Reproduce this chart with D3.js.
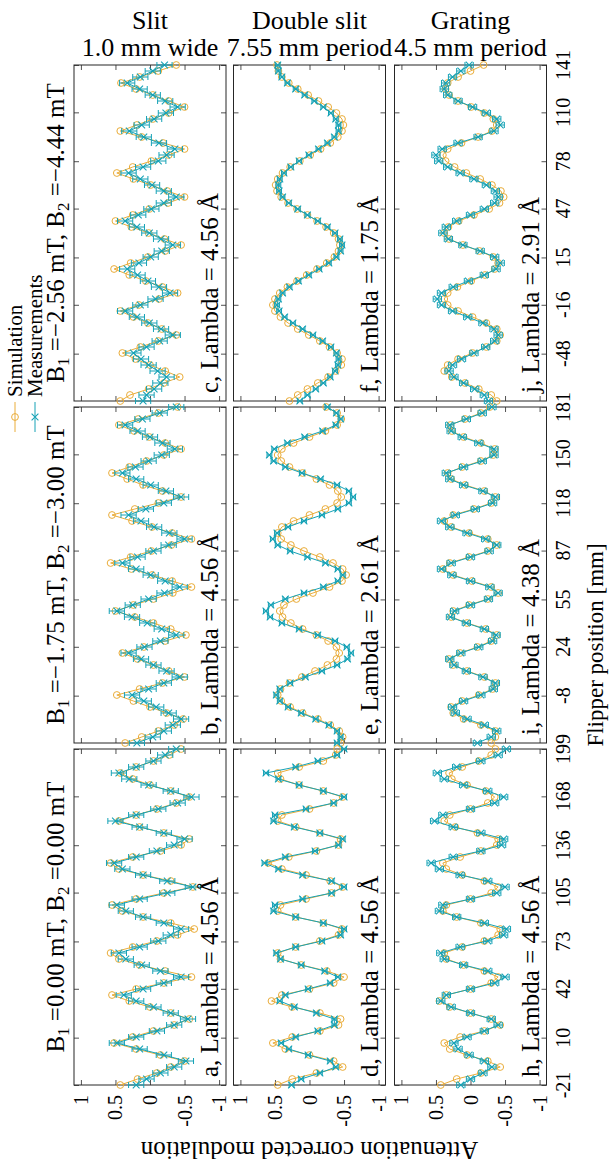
<!DOCTYPE html>
<html><head><meta charset="utf-8">
<script src="https://cdn.jsdelivr.net/npm/d3@7"></script>
<style>
body{margin:0;background:#fff}
svg{display:block}
svg text{font-family:"Liberation Serif","DejaVu Serif",serif;fill:#000}
</style>
</head><body>
<svg id="c" width="609" height="1163" font-family="Liberation Serif, DejaVu Serif, serif"></svg>
<script>
// ---------------- data ----------------
const colTitles = ["Slit", "Double slit", "Grating"];
const colSubtitles = ["1.0 mm wide", "7.55 mm period", "4.5 mm period"];
const rowB1 = ["\u22122.56", "\u22121.75", "0.00"];
const rowB2 = ["\u22124.44", "\u22123.00", "0.00"];
// flipper-position range of each row (top, middle, bottom) and its tick labels
const rowStart = [-79, -39, -21];
const rowEnd = [141, 181, 199];
const rowTicks = [
  [-48, -16, 15, 47, 78, 110, 141],
  [-8, 24, 55, 87, 118, 150, 181],
  [-21, 10, 42, 73, 105, 136, 168, 199]
];
const modTicks = [1, 0.5, 0, -0.5, -1];
const panelLetters = [["c", "f", "j"], ["b", "e", "i"], ["a", "d", "h"]];
const panelLambdas = [["4.56", "1.75", "2.91"], ["4.56", "2.61", "4.38"], ["4.56", "4.56", "4.56"]];
const colErr = [0.11, 0.035, 0.06];

// Slit, B1=-2.56
const sim_c = [.43,.29,.02,-.2,-.43,-.22,.0,.21,.40,.14,-.12,-.38,-.17,.03,.24,.43,.16,-.13,-.40,-.18,.06,.3,.52,.28,.03,-.22,-.45,-.21,.02,.27,.50,.25,.01,-.26,-.50,-.25,-.01,.24,.48,.25,-.02,-.27,-.50,-.19,.12,.43,.19,-.04,-.27,-.50,-.27,-.04,.2,.42,.15,-.12,-.38];
const meas_c = [.10,.05,-.06,-.15,-.24,-.11,.02,.13,.24,.05,-.14,-.33,-.16,.01,.19,.36,.14,-.08,-.29,-.13,.03,.18,.33,.16,-.01,-.17,-.33,-.16,.01,.19,.36,.17,-.02,-.2,-.38,-.2,-.03,.14,.31,.1,-.12,-.24,-.36,-.13,.09,.30,.12,-.06,-.23,-.40,-.22,-.04,.15,.33,.14,-.04,-.21];
// Slit, B1=-1.75
const sim_b = [.36,.12,-.12,-.35,-.48,-.24,.0,.24,.48,.15,-.18,-.50,-.27,-.05,.18,.40,.09,-.22,-.52,-.3,-.05,.22,.50,.24,-.05,-.33,-.60,-.32,-.03,.27,.57,.28,-.02,-.31,-.60,-.32,-.03,.26,.55,.22,-.12,-.45,-.18,.1,.33,.55,.3,.05,-.2,-.45,-.22,.01,.23,.45,.17,-.12,-.40];
const meas_b = [.19,-.04,-.2,-.33,-.45,-.27,-.09,.09,.26,.02,-.2,-.43,-.24,-.05,.13,.31,.08,-.15,-.38,-.17,.04,.26,.48,.25,.02,-.21,-.43,-.22,-.01,.2,.40,.18,-.05,-.27,-.50,-.28,-.06,.13,.31,.06,-.2,-.45,-.23,-.01,.2,.40,.21,.02,-.17,-.36,-.18,.0,.18,.36,.11,-.14,-.38];
// Slit, B1=0
const sim_a = [.43,.18,-.1,-.3,-.50,-.15,.2,.52,.25,-.05,-.35,-.57,-.3,.0,.3,.55,.2,-.2,-.60,-.22,.15,.45,.57,.25,-.1,-.4,-.64,-.3,.1,.4,.55,.2,-.2,-.62,-.3,.1,.45,.57,.25,-.15,-.45,-.57,-.2,.15,.45,.2,-.1,-.38,-.57,-.3,.0,.25,.43,.2,-.05,-.28,-.45];
const meas_a = [.20,.05,-.15,-.35,-.52,-.2,.15,.48,.2,-.1,-.35,-.55,-.3,-.05,.2,.38,.1,-.2,-.45,-.15,.12,.35,.45,.15,-.12,-.3,-.45,-.2,.1,.35,.48,.15,-.25,-.62,-.25,.1,.4,.52,.2,-.1,-.35,-.5,-.2,.15,.5,.2,-.12,-.4,-.60,-.3,.02,.3,.45,.2,-.05,-.22,-.38];
// Double slit, B1=-2.56
const sim_f = [.29,.17,.03,-.12,-.27,-.38,-.46,-.47,-.40,-.29,-.15,.01,.17,.31,.42,.50,.53,.50,.43,.32,.18,.04,-.11,-.25,-.36,-.42,-.44,-.42,-.35,-.24,-.11,.03,.18,.31,.41,.47,.49,.46,.39,.28,.14,-.01,-.16,-.30,-.41,-.47,-.49,-.47,-.39,-.27,-.13,.02,.17,.30,.40,.45,.47];
const meas_f = [.14,.03,-.09,-.2,-.3,-.37,-.41,-.42,-.39,-.31,-.19,-.05,.1,.24,.36,.44,.47,.45,.39,.29,.16,.01,-.14,-.28,-.39,-.45,-.47,-.44,-.37,-.26,-.12,.03,.17,.3,.39,.44,.45,.43,.37,.27,.15,.01,-.13,-.26,-.36,-.42,-.42,-.38,-.31,-.2,-.07,.07,.2,.32,.4,.45,.46];
// Double slit, B1=-1.75
const sim_e = [-.45,-.48,-.43,-.30,-.12,.10,.28,.41,.46,.42,.29,.11,-.08,-.26,-.39,-.43,-.39,-.27,-.10,.10,.27,.39,.43,.37,.19,-.05,-.29,-.47,-.53,-.48,-.34,-.15,.08,.27,.41,.46,.40,.23,.0,-.23,-.40,-.46,-.41,-.29,-.10,.10,.29,.41,.46,.40,.23,.0,-.23,-.40,-.46,-.40,-.24];
const meas_e = [-.40,-.45,-.40,-.28,-.09,.12,.31,.43,.48,.43,.28,.06,-.18,-.40,-.55,-.60,-.54,-.37,-.12,.15,.40,.57,.63,.56,.35,.08,-.20,-.41,-.48,-.41,-.23,.03,.28,.46,.53,.47,.31,.08,-.18,-.41,-.57,-.63,-.57,-.40,-.16,.11,.35,.52,.58,.51,.32,.07,-.19,-.38,-.45,-.39,-.26];
// Double slit, B1=0
const sim_d = [.46,.25,-.1,-.48,-.35,.0,.35,.53,.25,-.15,-.42,-.45,-.15,.25,.55,.4,.0,-.35,-.50,-.25,.12,.42,.46,.2,-.15,-.42,-.47,-.2,.2,.46,.42,.05,-.32,-.48,-.3,.05,.4,.60,.3,-.1,-.42,-.45,-.15,.2,.46,.4,.0,-.35,-.48,-.2,.15,.42,.46,.15,-.2,-.38,-.40];
const meas_d = [.26,.12,-.15,-.38,-.3,.02,.3,.41,.2,-.12,-.36,-.36,-.1,.22,.43,.35,.02,-.3,-.41,-.22,.12,.42,.48,.2,-.18,-.45,-.5,-.2,.2,.52,.5,.1,-.32,-.50,-.32,.1,.45,.65,.35,-.08,-.42,-.48,-.15,.22,.52,.5,.05,-.35,-.50,-.2,.15,.45,.63,.2,-.12,-.4,-.50];
// Grating, B1=-2.56
const sim_j = [-.38,-.30,-.12,.08,.27,.38,.33,.18,-.03,-.23,-.38,-.43,-.38,-.23,-.03,.18,.33,.38,.33,.19,-.01,-.21,-.35,-.40,-.33,-.13,.11,.31,.38,.32,.17,-.05,-.27,-.42,-.48,-.44,-.31,-.14,.06,.23,.36,.40,.33,.13,-.11,-.31,-.38,-.33,-.2,-.01,.18,.31,.36,.33,.18,.0,-.19];
const meas_j = [-.26,-.2,-.06,.1,.24,.31,.26,.13,-.05,-.22,-.35,-.40,-.34,-.18,.04,.26,.42,.48,.42,.25,.03,-.2,-.37,-.43,-.35,-.14,.11,.32,.40,.35,.2,.0,-.2,-.35,-.40,-.36,-.23,-.05,.15,.33,.46,.50,.41,.18,-.11,-.34,-.43,-.38,-.23,-.03,.18,.33,.38,.36,.26,.14,.02];
// Grating, B1=-1.75
const sim_i = [-.30,-.36,-.36,-.15,.1,.25,.28,.12,-.12,-.32,-.36,-.2,.05,.25,.31,.15,-.1,-.3,-.38,-.22,.05,.28,.25,.02,-.25,-.40,-.3,-.02,.25,.40,.3,.02,-.25,-.38,-.25,.02,.28,.38,.25,-.05,-.3,-.36,-.2,.08,.28,.33,.12,-.15,-.33,-.35,-.15,.1,.27,.29,.08,-.15,-.28];
const meas_i = [-.1,-.3,-.38,-.2,.05,.22,.26,.1,-.15,-.33,-.36,-.18,.06,.24,.3,.14,-.12,-.32,-.37,-.2,.06,.29,.23,.0,-.26,-.40,-.28,.0,.27,.42,.28,.0,-.27,-.38,-.22,.05,.3,.42,.22,-.07,-.32,-.36,-.18,.1,.3,.35,.1,-.17,-.34,-.34,-.12,.12,.28,.3,.06,-.17,-.31];
// Grating, B1=0
const sim_h = [.43,.2,-.15,-.43,-.25,.05,.3,.38,.15,-.2,-.43,-.3,.0,.3,.45,.35,.0,-.3,-.40,-.2,.1,.35,.38,.12,-.2,-.4,-.43,-.15,.2,.40,.35,.0,-.3,-.40,-.2,.12,.35,.40,.15,-.15,-.38,-.40,-.1,.22,.38,.3,.0,-.25,-.35,-.22,.05,.27,.31,.12,-.12,-.3,-.36];
const meas_h = [.14,.0,-.18,-.31,-.2,.02,.18,.24,.05,-.2,-.40,-.3,.0,.28,.43,.35,.0,-.35,-.50,-.25,.1,.38,.43,.15,-.25,-.48,-.52,-.2,.2,.45,.4,.0,-.38,-.50,-.25,.15,.45,.57,.25,-.15,-.45,-.48,-.15,.25,.52,.4,.0,-.35,-.48,-.25,.1,.38,.48,.2,-.15,-.4,-.52];

const simData = [[sim_c, sim_f, sim_j], [sim_b, sim_e, sim_i], [sim_a, sim_d, sim_h]];
const measData = [[meas_c, meas_f, meas_j], [meas_b, meas_e, meas_i], [meas_a, meas_d, meas_h]];

// ---------------- layout / style ----------------
const FONT = "Liberation Serif, DejaVu Serif, serif";
const colLeft = [74, 233.5, 394.5], colW = 152;
const rowTop = [65, 407, 749], rowH = 336;
const ORANGE = "#EAAD3A", TEAL = "#16A2B6", AXIS = "#262626";
const svg = d3.select("#c");

function txt(parent) {
  return parent.append("text").attr("font-family", FONT).attr("fill", "#000");
}
function xMarker(sel, size) {
  sel.attr("d", `M${-size},${-size}L${size},${size}M${-size},${size}L${size},${-size}`);
}

for (let r = 0; r < 3; r++) {
  for (let c = 0; c < 3; c++) {
    const x0 = colLeft[c], x1 = x0 + colW, y0 = rowTop[r], y1 = y0 + rowH;
    const xs = d3.scaleLinear().domain([1.1, -1.1]).range([x0, x1]);
    const ys = d3.scaleLinear().domain([rowStart[r], rowEnd[r]]).range([y1, y0]);
    const sim = simData[r][c], meas = measData[r][c];
    const n = sim.length;
    const pos = i => rowStart[r] + i * (rowEnd[r] - rowStart[r]) / (n - 1);
    const simPts = sim.map((v, i) => ({f: pos(i), v}));
    const measPts = meas.map((v, i) => ({f: pos(i), v}));
    const g = svg.append("g");

    const axStyle = a => { a.select(".domain").remove(); a.attr("color", AXIS); a.selectAll("line").attr("stroke-width", 0.8); };
    g.append("g").attr("transform", `translate(0,${y1})`)
      .call(d3.axisBottom(xs).tickValues(modTicks).tickSize(-5).tickFormat("")).call(axStyle);
    g.append("g").attr("transform", `translate(0,${y0})`)
      .call(d3.axisTop(xs).tickValues(modTicks).tickSize(-5).tickFormat("")).call(axStyle);
    g.append("g").attr("transform", `translate(${x0},0)`)
      .call(d3.axisLeft(ys).tickValues(rowTicks[r]).tickSize(-5).tickFormat("")).call(axStyle);
    g.append("g").attr("transform", `translate(${x1},0)`)
      .call(d3.axisRight(ys).tickValues(rowTicks[r]).tickSize(-5).tickFormat("")).call(axStyle);

    g.append("rect").attr("x", x0).attr("y", y0).attr("width", colW).attr("height", rowH)
      .attr("fill", "none").attr("stroke", AXIS).attr("stroke-width", 1);

    const line = d3.line().x(d => xs(d.v)).y(d => ys(d.f));
    g.append("path").datum(simPts).attr("d", line).attr("fill", "none")
      .attr("stroke", ORANGE).attr("stroke-width", 1);
    g.selectAll(".sm").data(simPts).join("circle")
      .attr("cx", d => xs(d.v)).attr("cy", d => ys(d.f)).attr("r", 3.4)
      .attr("fill", "none").attr("stroke", ORANGE).attr("stroke-width", 1);

    const err = colErr[c];
    const eb = g.append("g").attr("stroke", TEAL).attr("stroke-width", 1);
    measPts.forEach(d => {
      const yy = ys(d.f), xa = xs(d.v + err), xb = xs(d.v - err);
      eb.append("line").attr("x1", xa).attr("x2", xb).attr("y1", yy).attr("y2", yy);
      eb.append("line").attr("x1", xa).attr("x2", xa).attr("y1", yy - 3).attr("y2", yy + 3);
      eb.append("line").attr("x1", xb).attr("x2", xb).attr("y1", yy - 3).attr("y2", yy + 3);
    });
    g.append("path").datum(measPts).attr("d", line).attr("fill", "none")
      .attr("stroke", TEAL).attr("stroke-width", 1);
    g.selectAll(".mm").data(measPts).join("path")
      .attr("transform", d => `translate(${xs(d.v)},${ys(d.f)})`)
      .call(xMarker, 3.4).attr("fill", "none").attr("stroke", TEAL).attr("stroke-width", 1.1);

    txt(g).attr("transform", `translate(${x1 - 8},${y1 - 8}) rotate(-90)`)
      .attr("font-size", 25)
      .text(`${panelLetters[r][c]}, Lambda = ${panelLambdas[r][c]} \u00C5`);

    if (r === 2) {
      modTicks.forEach(t => {
        txt(svg).attr("transform", `translate(${xs(t)},${y1 + 10}) rotate(-90)`)
          .attr("text-anchor", "end").attr("dominant-baseline", "central")
          .attr("font-size", 20).text(String(t));
      });
    }
    if (c === 2) {
      rowTicks[r].forEach(t => {
        txt(svg).attr("transform", `translate(${x1 + 9},${ys(t)}) rotate(-90)`)
          .attr("text-anchor", "middle").attr("dominant-baseline", "hanging")
          .attr("font-size", 20).text(String(t));
      });
    }
  }
}

// column titles (top)
colTitles.forEach((t, c) => {
  const cx = colLeft[c] + colW / 2;
  txt(svg).attr("x", cx).attr("y", 29).attr("text-anchor", "middle").attr("font-size", 26).text(t);
  txt(svg).attr("x", cx).attr("y", 56).attr("text-anchor", "middle").attr("font-size", 26).text(colSubtitles[c]);
});

// row (B field) labels on the left
rowB1.forEach((b1, r) => {
  const cy = rowTop[r] + rowH / 2;
  const t = txt(svg).attr("transform", `translate(64,${cy}) rotate(-90)`)
    .attr("text-anchor", "middle").attr("font-size", 25);
  t.append("tspan").text("B");
  t.append("tspan").attr("font-size", 17).attr("dy", 5).text("1");
  t.append("tspan").attr("dy", -5).text(` =${b1} mT, B`);
  t.append("tspan").attr("font-size", 17).attr("dy", 5).text("2");
  t.append("tspan").attr("dy", -5).text(` =${rowB2[r]} mT`);
});

// axis titles
txt(svg).attr("transform", `translate(${colLeft[1] + colW / 2},1150) rotate(180)`)
  .attr("text-anchor", "middle").attr("dominant-baseline", "central")
  .attr("font-size", 25).text("Attenuation corrected modulation");
txt(svg).attr("transform", `translate(587,645) rotate(-90)`)
  .attr("text-anchor", "middle").attr("dominant-baseline", "hanging")
  .attr("font-size", 23).text("Flipper position [mm]");

// legend (left margin)
const legendNames = ["Simulation", "Measurements"];
const legendColors = [ORANGE, TEAL];
legendNames.forEach((name, k) => {
  const lg = svg.append("g").attr("transform", `translate(${15 + k * 20},432) rotate(-90)`);
  lg.append("line").attr("x1", 0).attr("x2", 30).attr("y1", 0).attr("y2", 0)
    .attr("stroke", legendColors[k]).attr("stroke-width", 1);
  if (k === 0) {
    lg.append("circle").attr("cx", 15).attr("cy", 0).attr("r", 3.4)
      .attr("fill", "none").attr("stroke", ORANGE).attr("stroke-width", 1);
  } else {
    lg.append("path").attr("transform", "translate(15,0)").call(xMarker, 3.4)
      .attr("fill", "none").attr("stroke", TEAL).attr("stroke-width", 1.1);
  }
  txt(lg).attr("x", 35).attr("y", 0).attr("dominant-baseline", "central")
    .attr("font-size", 21).text(name);
});
</script>
</body></html>
